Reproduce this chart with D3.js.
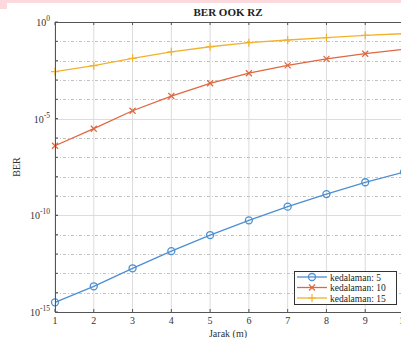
<!DOCTYPE html>
<html>
<head>
<meta charset="utf-8">
<script src="https://cdnjs.cloudflare.com/ajax/libs/d3/7.8.5/d3.min.js"></script>
<style>
body { margin: 0; background: #fff; }
svg { display: block; font-family: "Liberation Serif", "DejaVu Serif", serif; }
</style>
</head>
<body>
<div id="chart"></div>
<script>
// distances (m)
var jarak = [1, 2, 3, 4, 5, 6, 7, 8, 9, 10];
// BER values, as log10 exponents
var ber5  = [-14.5, -13.67, -12.74, -11.85, -11.02, -10.26, -9.55, -8.9, -8.29, -7.76];
var ber10 = [-6.4, -5.52, -4.59, -3.83, -3.17, -2.65, -2.24, -1.91, -1.64, -1.41];
var ber15 = [-2.57, -2.26, -1.88, -1.54, -1.28, -1.07, -0.93, -0.81, -0.69, -0.6];
var labels = ["kedalaman: 5", "kedalaman: 10", "kedalaman: 15"];
var yTickExp = [0, -5, -10, -15];

var W = 401, H = 338;
var margin = {top: 22, right: -3, bottom: 26, left: 55};
var width = W - margin.left - margin.right,
    height = H - margin.top - margin.bottom;

var svg = d3.select("#chart").append("svg")
  .attr("width", W).attr("height", H);

// pink strip at top of the capture
svg.append("rect").attr("x", 0).attr("y", 0).attr("width", W).attr("height", 3).attr("fill", "#fbd9dc");
svg.append("rect").attr("x", 0).attr("y", 0).attr("width", 7).attr("height", 9).attr("fill", "#fbd9dc");

var g = svg.append("g").attr("transform", "translate(" + margin.left + "," + margin.top + ")");

var x = d3.scaleLinear().domain([1, 10]).range([0, width]);
var y = d3.scaleLog().domain([1e-15, 1]).range([height, 0]);

// grid: vertical
g.append("g").selectAll("line").data(jarak).enter().append("line")
  .attr("x1", function(d) { return x(d); }).attr("x2", function(d) { return x(d); })
  .attr("y1", 0).attr("y2", height)
  .attr("stroke", "#dcdcdc").attr("stroke-width", 1);

// grid: horizontal, every decade
var decades = d3.range(-14, 0);
g.append("g").selectAll("line").data(decades).enter().append("line")
  .attr("x1", 0).attr("x2", width)
  .attr("y1", function(d) { return Math.round(y(Math.pow(10, d))) + 0.5; })
  .attr("y2", function(d) { return Math.round(y(Math.pow(10, d))) + 0.5; })
  .attr("stroke", function(d) { return d % 5 === 0 ? "#dcdcdc" : "#c4c4c4"; })
  .attr("stroke-dasharray", function(d) { return d % 5 === 0 ? null : "3,2,1,2"; })
  .attr("stroke-width", 1);

// series
var series = [
  {vals: ber5, color: "#4d8fd1", marker: "o"},
  {vals: ber10, color: "#e0673f", marker: "x"},
  {vals: ber15, color: "#f2b22e", marker: "+"}
];

var line = d3.line()
  .x(function(d, i) { return x(jarak[i]); })
  .y(function(d) { return y(Math.pow(10, d)); });

function drawMarker(sel, type, color) {
  if (type === "o") {
    sel.append("circle").attr("r", 3.5).attr("fill", "none").attr("stroke", color).attr("stroke-width", 1.3);
  } else if (type === "x") {
    sel.append("path").attr("d", "M-3,-3L3,3M-3,3L3,-3").attr("stroke", color).attr("stroke-width", 1.2);
  } else {
    sel.append("path").attr("d", "M-4,0L4,0M0,-4L0,4").attr("stroke", color).attr("stroke-width", 1.2);
  }
}

series.forEach(function(s) {
  g.append("path").datum(s.vals)
    .attr("fill", "none").attr("stroke", s.color).attr("stroke-width", 1.3)
    .attr("d", line);
  g.append("g").selectAll("g").data(s.vals).enter().append("g")
    .attr("transform", function(d, i) { return "translate(" + x(jarak[i]) + "," + y(Math.pow(10, d)) + ")"; })
    .each(function() { drawMarker(d3.select(this), s.marker, s.color); });
});

// axes box
var axisColor = "#555";
g.append("line").attr("x1", 0).attr("x2", width).attr("y1", 0.5).attr("y2", 0.5).attr("stroke", axisColor);
g.append("line").attr("x1", 0).attr("x2", width).attr("y1", height + 0.5).attr("y2", height + 0.5).attr("stroke", axisColor);
g.append("line").attr("x1", 0.5).attr("x2", 0.5).attr("y1", 0).attr("y2", height).attr("stroke", axisColor);

// x ticks (top and bottom)
jarak.forEach(function(d) {
  g.append("line").attr("x1", x(d)).attr("x2", x(d)).attr("y1", height).attr("y2", height - 3).attr("stroke", axisColor);
  g.append("line").attr("x1", x(d)).attr("x2", x(d)).attr("y1", 0).attr("y2", 3).attr("stroke", axisColor);
  g.append("text").attr("x", x(d)).attr("y", height + 12)
    .attr("text-anchor", "middle").attr("font-size", 10).attr("fill", "#333").text(d);
});

// y ticks
decades.concat(yTickExp).forEach(function(d) {
  g.append("line").attr("x1", 0).attr("x2", 3)
    .attr("y1", y(Math.pow(10, d))).attr("y2", y(Math.pow(10, d))).attr("stroke", axisColor);
});
yTickExp.forEach(function(d) {
  var t = g.append("text").attr("x", -5).attr("y", y(Math.pow(10, d)) + 4)
    .attr("text-anchor", "end").attr("font-size", 10).attr("fill", "#333");
  t.append("tspan").text("10");
  t.append("tspan").attr("dy", -5).attr("font-size", 7.5).text(d);
});

// title and axis labels
svg.append("text").attr("x", 228).attr("y", 16).attr("text-anchor", "middle")
  .attr("font-size", 11).attr("font-weight", "bold").attr("fill", "#222").text("BER OOK RZ");
svg.append("text").attr("x", 228).attr("y", 337).attr("text-anchor", "middle")
  .attr("font-size", 10).attr("fill", "#333").text("Jarak (m)");
svg.append("text").attr("transform", "translate(20,167) rotate(-90)").attr("text-anchor", "middle")
  .attr("font-size", 10).attr("fill", "#333").text("BER");

// legend
var lg = svg.append("g").attr("transform", "translate(294,271)");
lg.append("rect").attr("x", 0.5).attr("y", 0.5).attr("width", 102).attr("height", 33)
  .attr("fill", "#fff").attr("stroke", "#333").attr("stroke-width", 1);
series.forEach(function(s, i) {
  var row = lg.append("g").attr("transform", "translate(0," + (6 + i * 10.5) + ")");
  row.append("line").attr("x1", 3).attr("x2", 33).attr("y1", 0).attr("y2", 0)
    .attr("stroke", s.color).attr("stroke-width", 1.3);
  var m = row.append("g").attr("transform", "translate(18,0)");
  drawMarker(m, s.marker, s.color);
  row.append("text").attr("x", 36).attr("y", 3.5).attr("font-size", 9.5).attr("fill", "#222").text(labels[i]);
});
</script>
</body>
</html>
